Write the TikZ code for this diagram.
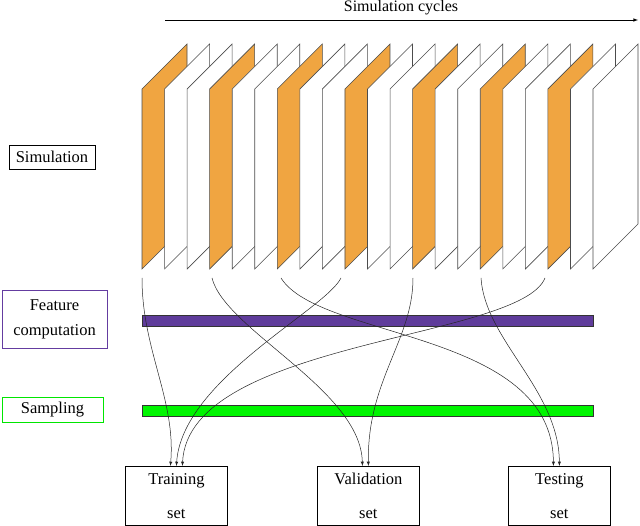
\documentclass[tikz,border=0pt]{standalone}
\usepackage{fontspec}
\setmainfont{Liberation Serif}
\begin{document}
\begin{tikzpicture}[x=1pt,y=-1pt,
  panel/.style={draw=black!70,line width=0.6pt},
  lab/.style={draw,line width=0.8pt,inner sep=2pt,font=\fontsize{16.5}{19}\selectfont,align=center},
  setbox/.style={draw,line width=0.8pt,minimum width=102pt,minimum height=59pt,font=\fontsize{16.5}{34}\selectfont,align=center,anchor=north west,inner sep=0pt},
  flow/.style={-latex,line width=0.5pt,black!85}]
\useasboundingbox (0,0) rectangle (640,526);
\draw[-latex,line width=0.6pt] (165,20) -- (638,20);
\node[font=\fontsize{16}{18}\selectfont,anchor=north,inner sep=0pt] (title) at (401,0.5) {Simulation cycles};
\foreach \i in {0,...,20}{
  \pgfmathsetmacro{\xx}{142+\i*22.55}
  \pgfmathtruncatemacro{\m}{mod(\i,3)}
  \ifnum\m=0
    \filldraw[panel,fill={rgb,255:red,240;green,165;blue,65}] (\xx,269) -- (\xx,89) -- (\xx+45,44) -- (\xx+45,224) -- cycle;
  \else
    \filldraw[panel,fill=white] (\xx,269) -- (\xx,89) -- (\xx+45,44) -- (\xx+45,224) -- cycle;
  \fi
}
\node[lab,minimum width=86pt,minimum height=24pt] (sim) at (52,157) {Simulation};
\node[lab,draw={rgb,255:red,100;green,60;blue,160},minimum width=105pt,minimum height=58pt] (feat) at (54.5,319) {Feature\\[6pt]computation};
\node[lab,draw={rgb,255:red,0;green,230;blue,0},minimum width=101pt,minimum height=25pt] (samp) at (52.5,409.5) {Sampling};
\filldraw[draw=black!80,fill={rgb,255:red,95;green,60;blue,155},line width=0.6pt] (142,315) rectangle (593,326);
\filldraw[draw=black!80,fill={rgb,255:red,0;green,245;blue,0},line width=0.6pt] (142,405) rectangle (593,416);
\node[setbox] (train) at (125,466) {Training\\set};
\node[setbox] (valid) at (317,466) {Validation\\set};
\node[setbox] (test) at (508,466) {Testing\\set};
\coordinate (s0) at (142,278);
\coordinate (s1) at (212,278);
\coordinate (s2) at (281,278);
\coordinate (s3) at (341,278);
\coordinate (s4) at (413,278);
\coordinate (s5) at (481,278);
\coordinate (s6) at (545,278);
\draw[flow] (s0) .. controls (142,350) and (176,400) .. ([xshift=-6pt]train.north);
\draw[flow] (s1) .. controls (225,330) and (361,390) .. ([xshift=-6pt]valid.north);
\draw[flow] (s2) .. controls (320,340) and (553,330) .. ([xshift=-6pt]test.north);
\draw[flow] (s3) .. controls (325,310) and (182,380) .. (train.north);
\draw[flow] (s4) .. controls (413,340) and (367,380) .. (valid.north);
\draw[flow] (s5) .. controls (485,340) and (559,390) .. (test.north);
\draw[flow] (s6) .. controls (520,340) and (188,340) .. ([xshift=6pt]train.north);
\end{tikzpicture}
\end{document}
